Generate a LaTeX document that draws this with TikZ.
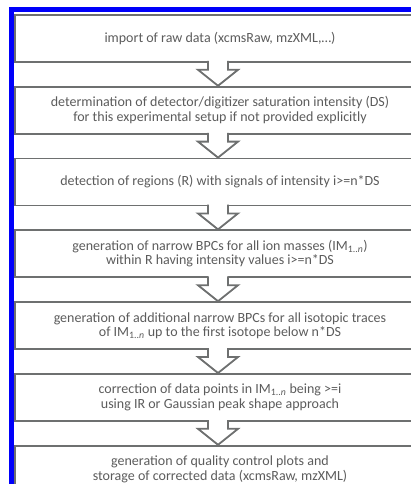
\documentclass[tikz,border=0pt]{standalone}
\usepackage{fontspec}
\setmainfont{Carlito}
\usetikzlibrary{positioning}
\definecolor{frameblue}{RGB}{0,0,250}
\definecolor{boxgray}{RGB}{110,112,112}
\definecolor{textgray}{RGB}{92,92,92}

\begin{document}
\begin{tikzpicture}[node distance=23pt,
  stepbox/.style={rectangle, draw=boxgray, line width=1.8pt, fill=white,
                  minimum width=410pt, minimum height=47pt, align=center,
                  text=textgray, font=\fontsize{14}{14.5}\selectfont},
  frame/.style={draw=frameblue, line width=5pt},
  blockarrow/.style={draw=boxgray, line width=1.8pt, line join=miter}]

\useasboundingbox (0,0) rectangle (411pt,-484pt);
\clip (0,0) rectangle (411pt,-484pt);
\draw[frame] (11.5pt,-9.5pt) rectangle (450pt,-520pt);

\node[stepbox, anchor=north] (b1) at (220pt,-14pt) {import of raw data (xcmsRaw, mzXML,\ldots)};
\node[stepbox, below=of b1] (b2) {determination of detector/digitizer saturation intensity (DS)\\for this experimental setup if not provided explicitly};
\node[stepbox, below=of b2] (b3) {detection of regions (R) with signals of intensity i>=n*DS};
\node[stepbox, below=of b3] (b4) {generation of narrow BPCs for all ion masses (IM\textsubscript{1..\textit{n}})\\within R having intensity values i>=n*DS};
\node[stepbox, below=of b4] (b5) {generation of additional narrow BPCs for all isotopic traces\\of IM\textsubscript{1..\textit{n}} up to the first isotope below n*DS};
\node[stepbox, below=of b5] (b6) {correction of data points in IM\textsubscript{1..\textit{n}} being >=i\\using IR or Gaussian peak shape approach};
\node[stepbox, below=of b6] (b7) {generation of quality control plots and\\storage of corrected data (xcmsRaw, mzXML)};

% hollow block arrows between the steps
\foreach \a/\b in {b1/b2,b2/b3,b3/b4,b4/b5,b5/b6,b6/b7}{
  \fill[white] ([xshift=-12pt,yshift=2pt]\a.south) -- ([xshift=-12pt,yshift=-7pt]\a.south)
    -- ([xshift=-22pt,yshift=-7pt]\a.south) -- ([xshift=-2pt]\b.north)
    -- ([xshift=18pt,yshift=-7pt]\a.south) -- ([xshift=8pt,yshift=-7pt]\a.south)
    -- ([xshift=8pt,yshift=2pt]\a.south) -- cycle;
  \draw[blockarrow] ([xshift=-12pt,yshift=1.8pt]\a.south) -- ([xshift=-12pt,yshift=-7pt]\a.south)
    -- ([xshift=-22pt,yshift=-7pt]\a.south) -- ([xshift=-2pt]\b.north)
    -- ([xshift=18pt,yshift=-7pt]\a.south) -- ([xshift=8pt,yshift=-7pt]\a.south)
    -- ([xshift=8pt,yshift=1.8pt]\a.south);
}
\end{tikzpicture}
\end{document}
